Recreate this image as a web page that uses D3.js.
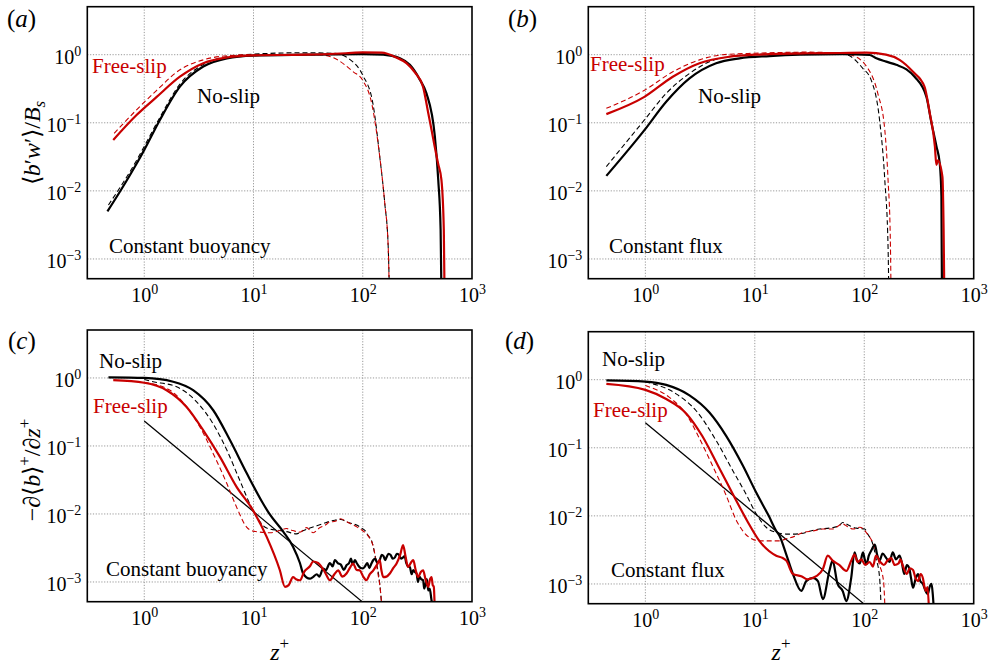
<!DOCTYPE html>
<html lang="en">
<head>
<meta charset="utf-8">
<script src="https://cdn.jsdelivr.net/npm/d3@7/dist/d3.min.js"></script>
</head>
<body style="margin:0;background:#fff">
<div id="chart"></div>
<script>
// ---- data: [z+, value] ----
// (a) constant buoyancy, flux profiles
const aNoSlip = [[0.46,0.0050],[0.6,0.0098],[0.85,0.025],[1.0,0.040],[1.39,0.11],[2.12,0.34],[3.47,0.67],[5.7,0.885],[10,0.97],[30,1.0],[100,1.02],[154,1.0],[219,0.885],[270,0.71],[333,0.43],[383,0.27],[457,0.063],[491,0.0145],[516,0.0027],[530,0.0001]];
const aFreeSlip = [[0.52,0.056],[0.85,0.13],[1.3,0.24],[2.12,0.475],[3.47,0.75],[5.7,0.91],[10,0.98],[30,1.0],[70,1.05],[100,1.08],[149,1.07],[200,0.92],[251,0.75],[300,0.55],[356,0.34],[398,0.138],[426,0.079],[455,0.045],[490,0.025],[525,0.0145],[552,0.0027],[565,0.0001]];
const aNoSlipDash = [[0.47,0.0062],[0.85,0.028],[1.0,0.045],[1.39,0.12],[2.12,0.37],[3.47,0.72],[5.7,0.93],[10,1.02],[30,1.07],[54,1.05],[76,0.855],[100,0.5],[124,0.19],[143,0.032],[159,0.0066],[171,0.0015],[178,0.0001]];
const aFreeSlipDash = [[0.53,0.070],[0.85,0.155],[1.3,0.30],[2.12,0.6],[3.47,0.84],[6,0.97],[10,1.0],[40,1.0],[54,0.9],[82,0.56],[100,0.42],[121,0.19],[143,0.032],[159,0.0066],[171,0.0015],[177,0.0001]];

// (b) constant flux, flux profiles
const bNoSlip = [[0.44,0.0166],[0.98,0.078],[1.55,0.204],[2.53,0.45],[4.43,0.75],[7.25,0.885],[13.6,0.955],[25.7,1.0],[63,1.02],[112,0.99],[129,0.885],[159,0.79],[196,0.71],[243,0.61],[290,0.47],[370,0.24],[411,0.1],[457,0.045],[490,0.025],[507,0.0083],[515,0.0001]];
const bFreeSlip = [[0.44,0.134],[0.98,0.24],[1.78,0.475],[3.12,0.75],[5.86,0.935],[10,1.0],[30,1.05],[60,1.06],[105,1.07],[158,1.0],[210,0.84],[279,0.56],[355,0.34],[397,0.138],[442,0.045],[456,0.024],[470,0.028],[518,0.016],[531,0.0027],[543,0.0001]];
const bNoSlipDash = [[0.44,0.0227],[0.98,0.11],[1.55,0.27],[2.53,0.53],[4.43,0.855],[8,0.98],[15,1.03],[30,1.07],[50,1.06],[69,1.0],[97,0.63],[116,0.42],[138,0.11],[154,0.0145],[165,0.0015],[169,0.0001]];
const bFreeSlipDash = [[0.44,0.163],[0.98,0.30],[1.78,0.56],[3.12,0.84],[5.1,1.0],[10,1.05],[30,1.09],[50,1.07],[74,1.0],[105,0.67],[133,0.27],[154,0.079],[165,0.0145],[173,0.002],[177,0.0001]];

// (c) constant buoyancy, buoyancy gradient
const cNoSlip = [[0.47,1.02],[1.0,1.0],[1.84,0.88],[2.8,0.66],[4.28,0.335],[6.1,0.121],[8.65,0.04],[12,0.015],[14,0.01],[18.7,0.0055],[23,0.0033],[26.6,0.0019],[28.5,0.00133],[32.8,0.00112],[35,0.00118],[38,0.0013],[40,0.0012],[43.4,0.00157],[46,0.0015],[50,0.0019],[53,0.0017],[55.6,0.0021],[59,0.0019],[63,0.0018],[67,0.0015],[71,0.00176],[75,0.0019],[78,0.0022],[81,0.0018],[84.7,0.0021],[88,0.0019],[92,0.0017],[96,0.0016],[100,0.00158],[105,0.0017],[110,0.0019],[115,0.0016],[120,0.00187],[125,0.0021],[130,0.0022],[136,0.0019],[143,0.0021],[149,0.0025],[155,0.0024],[160,0.0021],[165,0.0023],[172,0.0026],[180,0.0025],[188,0.0022],[197,0.0023],[205,0.0026],[215,0.0025],[224,0.0022],[234,0.0023],[242,0.0024],[250,0.0019],[260,0.0017],[270,0.00166],[280,0.0013],[290,0.0015],[300,0.0014],[311,0.00133],[320,0.001],[330,0.0012],[343,0.0011],[357,0.00106],[365,0.0008],[375,0.0009],[386,0.0011],[398,0.00075],[410,0.0008],[426,0.00054],[450,0.0004]];
const cFreeSlip = [[0.52,0.93],[1.0,0.85],[1.6,0.66],[2.44,0.375],[3.47,0.17],[4.93,0.069],[7.0,0.025],[9.9,0.0113],[13.2,0.0046],[17.4,0.0015],[19.4,0.00085],[21,0.0009],[23,0.00118],[24.5,0.0011],[26.6,0.00106],[29,0.0014],[32.8,0.0017],[35.2,0.002],[39,0.0019],[45,0.0014],[50,0.00106],[55,0.0013],[59.6,0.00148],[65,0.0012],[71,0.00133],[76,0.0016],[81.5,0.00187],[88,0.0015],[94,0.00148],[101,0.0012],[108,0.00106],[116,0.0013],[125,0.00148],[135,0.0018],[143,0.0021],[148,0.0015],[154,0.00118],[165,0.0012],[177,0.00133],[190,0.0016],[204,0.00187],[220,0.0025],[234,0.0035],[245,0.0025],[260,0.00166],[275,0.0019],[290,0.0021],[305,0.0015],[321,0.00118],[340,0.0014],[357,0.00148],[375,0.0011],[398,0.00085],[413,0.0011],[426,0.00118],[437,0.0009],[447,0.00085],[456,0.0004]];
const cNoSlipDash = [[1.0,0.95],[1.13,0.90],[1.98,0.74],[3.0,0.45],[4.28,0.21],[5.7,0.087],[7.5,0.031],[9.9,0.0113],[13.2,0.0062],[17.4,0.0057],[20,0.0055],[24.7,0.0051],[28,0.0056],[32.8,0.0062],[38,0.0067],[43.4,0.0072],[50,0.0078],[55.6,0.0081],[63,0.0083],[71,0.0077],[80,0.0072],[89,0.0068],[97,0.0062],[105,0.0057],[112,0.0048],[120,0.0041],[132,0.0021],[143,0.00095],[150,0.0004]];
const cFreeSlipDash = [[1.0,0.86],[1.72,0.66],[2.44,0.375],[3.23,0.19],[4.28,0.077],[5.7,0.028],[7.0,0.0126],[8.65,0.0064],[9.9,0.0056],[14.2,0.0053],[17.4,0.0057],[20,0.0061],[23,0.0057],[26.6,0.0054],[30.5,0.0063],[35.2,0.0053],[40,0.0062],[45,0.0068],[50,0.0076],[56,0.0078],[62.6,0.0085],[71,0.0077],[80,0.007],[89,0.0064],[98,0.0058],[108,0.0051],[116,0.0044],[125,0.0033],[136,0.0015],[146,0.00068],[150,0.0004]];

// (d) constant flux, buoyancy gradient
const dNoSlip = [[0.44,0.98],[1.0,0.94],[1.55,0.84],[2.53,0.59],[3.85,0.33],[5.47,0.15],[7.77,0.055],[10.3,0.022],[13.4,0.01],[15.7,0.006],[16.8,0.0051],[19.4,0.0027],[22.3,0.0014],[26.6,0.00079],[29.5,0.0011],[34,0.00123],[37.7,0.0011],[41.9,0.0006],[48,0.00155],[51.4,0.0022],[57,0.001],[63.5,0.00079],[68.6,0.00056],[76,0.00123],[81.5,0.0029],[86,0.0022],[91,0.002],[97.4,0.0029],[101,0.0023],[105,0.00195],[110,0.0026],[116,0.0031],[125,0.0038],[131,0.0027],[138,0.0022],[147,0.0028],[159,0.0024],[170,0.0021],[182,0.0029],[195,0.0023],[210,0.0026],[220,0.0021],[232,0.0014],[245,0.0019],[258,0.0017],[268,0.0012],[279,0.00088],[295,0.0012],[310,0.0014],[325,0.0011],[344,0.001],[362,0.0008],[381,0.00071],[395,0.0009],[412,0.001],[423,0.0007],[433,0.0004]];
const dFreeSlip = [[0.44,0.87],[1.0,0.71],[1.55,0.52],[2.36,0.32],[3.3,0.15],[4.6,0.055],[6.5,0.019],[8.5,0.0085],[11,0.0043],[15.7,0.0026],[18,0.0024],[19.4,0.0022],[22.3,0.0014],[26.6,0.0013],[30.4,0.00117],[36.4,0.0013],[41.9,0.00166],[46.4,0.0026],[51.4,0.0022],[59,0.0019],[68.6,0.00155],[76,0.0022],[81.5,0.0027],[87,0.0021],[94,0.0023],[102,0.0019],[112,0.0021],[120,0.0018],[128,0.0026],[140,0.0021],[151,0.0019],[163,0.0022],[176,0.0024],[190,0.0019],[206,0.002],[214,0.0023],[224,0.0019],[245,0.0014],[260,0.0017],[279,0.0016],[295,0.0012],[310,0.0011],[327,0.0014],[344,0.0012],[355,0.0009],[366,0.00079],[378,0.0009],[391,0.0004]];
const dNoSlipDash = [[1.0,0.93],[1.91,0.62],[2.91,0.35],[4.43,0.128],[6.3,0.046],[8.3,0.021],[10.3,0.0107],[12.7,0.0068],[15.7,0.0057],[19.4,0.0054],[22.3,0.0054],[26.6,0.0055],[32.3,0.006],[39,0.0064],[48,0.0066],[59,0.0072],[63.5,0.008],[73,0.0072],[84.7,0.0066],[101,0.0064],[107.6,0.0054],[120,0.0038],[128,0.0024],[138,0.00125],[143,0.0004]];
const dFreeSlipDash = [[1.0,0.82],[1.66,0.55],[2.4,0.3],[3.1,0.14],[4.1,0.055],[5.4,0.021],[6.8,0.0085],[8.95,0.0048],[11,0.0043],[14.6,0.0043],[16.8,0.0043],[19.4,0.0046],[23,0.005],[27.5,0.0057],[34,0.006],[41.9,0.0064],[51,0.0064],[63.5,0.0076],[70,0.007],[79,0.0064],[91,0.0068],[107,0.0054],[125,0.0034],[138,0.0019],[150,0.0011],[155,0.0004]];

// z^(-4/3) reference line end points
const powerLine = [[1, 0.233], [100, 0.000505]];

const xTickExps = [0, 1, 2, 3];
const yTickExps = [-3, -2, -1, 0];
const xDomain = [0.301, 1000];
const yDomain = [Math.pow(10, -3.29), Math.pow(10, 0.705)];

const RED = "#c80000", BLACK = "#000";
const SERIF = "'Liberation Serif', cursive";

const svg = d3.select("#chart").append("svg")
    .attr("width", 989)
    .attr("height", 666)
    .style("font-family", SERIF);

const panels = [
  { key: "a", box: [87.3, 6.7, 472, 278.7], letter: "a", lpos: [7, 27],
    lines: [[aNoSlipDash, BLACK, true], [aFreeSlipDash, RED, true], [aNoSlip, BLACK, false], [aFreeSlip, RED, false]],
    labels: [["Free-slip", RED, 92, 73], ["No-slip", BLACK, 197, 103], ["Constant buoyancy", BLACK, 109, 253]] },
  { key: "b", box: [588.3, 6.7, 973.7, 278.7], letter: "b", lpos: [508, 27],
    lines: [[bNoSlipDash, BLACK, true], [bFreeSlipDash, RED, true], [bNoSlip, BLACK, false], [bFreeSlip, RED, false]],
    labels: [["Free-slip", RED, 590, 71], ["No-slip", BLACK, 698, 103], ["Constant flux", BLACK, 609, 253]] },
  { key: "c", box: [87.3, 330, 472, 601.7], letter: "c", lpos: [8, 349], power: true,
    lines: [[cNoSlipDash, BLACK, true], [cFreeSlipDash, RED, true], [cNoSlip, BLACK, false], [cFreeSlip, RED, false]],
    labels: [["No-slip", BLACK, 99, 368], ["Free-slip", RED, 93, 413], ["Constant buoyancy", BLACK, 106, 576]] },
  { key: "d", box: [588.3, 331.7, 973.7, 603.7], letter: "d", lpos: [505, 349], power: true,
    lines: [[dNoSlipDash, BLACK, true], [dFreeSlipDash, RED, true], [dNoSlip, BLACK, false], [dFreeSlip, RED, false]],
    labels: [["No-slip", BLACK, 602, 366], ["Free-slip", RED, 593, 417], ["Constant flux", BLACK, 611, 577]] }
];

function pow10Label(sel, exp) {
    sel.text(null);
    sel.append("tspan").text("10");
    sel.append("tspan").attr("dy", -8).style("font-size", "14px")
        .text(exp < 0 ? "\u2212" + (-exp) : exp);
}

panels.forEach(function(p) {
    var x0 = p.box[0], y0 = p.box[1], x1 = p.box[2], y1 = p.box[3];
    var x = d3.scaleLog().domain(xDomain).range([x0, x1]);
    var y = d3.scaleLog().domain(yDomain).range([y1, y0]);
    var g = svg.append("g");

    // grid
    g.selectAll(".gx").data(xTickExps.slice(0, 3)).enter().append("line")
        .attr("x1", d => x(Math.pow(10, d))).attr("x2", d => x(Math.pow(10, d)))
        .attr("y1", y0).attr("y2", y1)
        .attr("stroke", "#999").attr("stroke-width", 1).attr("stroke-dasharray", "1.2,1.6");
    g.selectAll(".gy").data(yTickExps).enter().append("line")
        .attr("x1", x0).attr("x2", x1)
        .attr("y1", d => y(Math.pow(10, d))).attr("y2", d => y(Math.pow(10, d)))
        .attr("stroke", "#999").attr("stroke-width", 1).attr("stroke-dasharray", "1.2,1.6");

    // axes (labels only, frame drawn below)
    var xAxis = d3.axisBottom(x).tickValues(xTickExps.map(e => Math.pow(10, e))).tickSize(0).tickPadding(0);
    var ax = g.append("g").attr("transform", "translate(0," + (y1 + 23) + ")").call(xAxis);
    ax.attr("font-family", null);
    ax.select(".domain").remove();
    ax.selectAll("text").style("font-family", SERIF).style("font-size", "20px")
        .attr("fill", "#000").attr("dy", 0)
        .each(function(d) { pow10Label(d3.select(this), Math.round(Math.log10(d))); });

    var yAxis = d3.axisLeft(y).tickValues(yTickExps.map(e => Math.pow(10, e))).tickSize(0).tickPadding(0);
    var ay = g.append("g").attr("transform", "translate(" + (x0 - 6) + ",0)").call(yAxis);
    ay.attr("font-family", null);
    ay.select(".domain").remove();
    ay.selectAll("text").style("font-family", SERIF).style("font-size", "20px")
        .attr("fill", "#000").attr("dy", 9)
        .each(function(d) { pow10Label(d3.select(this), Math.round(Math.log10(d))); });

    // curves
    var clipId = "clip-" + p.key;
    svg.append("clipPath").attr("id", clipId).append("rect")
        .attr("x", x0).attr("y", y0).attr("width", x1 - x0).attr("height", y1 - y0);
    var plot = g.append("g").attr("clip-path", "url(#" + clipId + ")");
    var line = d3.line().x(d => x(d[0])).y(d => y(d[1])).curve(d3.curveMonotoneX);

    if (p.power) {
        plot.append("path").datum(powerLine).attr("d", d3.line().x(d => x(d[0])).y(d => y(d[1])))
            .attr("fill", "none").attr("stroke", "#000").attr("stroke-width", 1.3);
    }
    p.lines.forEach(function(s) {
        plot.append("path").datum(s[0]).attr("d", line)
            .attr("fill", "none").attr("stroke", s[1])
            .attr("stroke-width", s[2] ? 1.1 : 2.2)
            .attr("stroke-dasharray", s[2] ? "5,3" : null)
            .attr("stroke-linejoin", "round");
    });

    // frame
    g.append("rect").attr("x", x0).attr("y", y0).attr("width", x1 - x0).attr("height", y1 - y0)
        .attr("fill", "none").attr("stroke", "#000").attr("stroke-width", 1.6);

    // in-plot labels
    p.labels.forEach(function(l) {
        g.append("text").attr("x", l[2]).attr("y", l[3]).attr("fill", l[1])
            .style("font-family", SERIF).style("font-size", "21px").text(l[0]);
    });

    // panel letter
    var lt = g.append("text").attr("x", p.lpos[0]).attr("y", p.lpos[1])
        .style("font-family", SERIF).style("font-size", "25px");
    lt.append("tspan").text("(");
    lt.append("tspan").style("font-style", "italic").text(p.letter);
    lt.append("tspan").text(")");
});

// y-axis titles
var t1 = svg.append("text").attr("transform", "translate(40,143) rotate(-90)")
    .attr("text-anchor", "middle").style("font-family", SERIF).style("font-size", "24px");
t1.append("tspan").text("\u27E8");
t1.append("tspan").style("font-style", "italic").text("b");
t1.append("tspan").text("\u2032");
t1.append("tspan").style("font-style", "italic").text("w");
t1.append("tspan").text("\u2032\u27E9/");
t1.append("tspan").style("font-style", "italic").text("B");
t1.append("tspan").style("font-style", "italic").style("font-size", "17px").attr("dy", 5).text("s");

var t2 = svg.append("text").attr("transform", "translate(40,470) rotate(-90)")
    .attr("text-anchor", "middle").style("font-family", SERIF).style("font-size", "24px");
t2.append("tspan").text("\u2212\u2202\u27E8");
t2.append("tspan").style("font-style", "italic").text("b");
t2.append("tspan").text("\u27E9");
t2.append("tspan").style("font-size", "17px").attr("dy", -10).text("+");
t2.append("tspan").attr("dy", 10).text("/\u2202");
t2.append("tspan").style("font-style", "italic").text("z");
t2.append("tspan").style("font-size", "17px").attr("dy", -10).text("+");

// x-axis titles
[[279.7, 660], [781, 660]].forEach(function(pos) {
    var t = svg.append("text").attr("x", pos[0]).attr("y", pos[1])
        .attr("text-anchor", "middle").style("font-family", SERIF).style("font-size", "24px");
    t.append("tspan").style("font-style", "italic").text("z");
    t.append("tspan").style("font-size", "17px").attr("dy", -11).text("+");
});
</script>
</body>
</html>
